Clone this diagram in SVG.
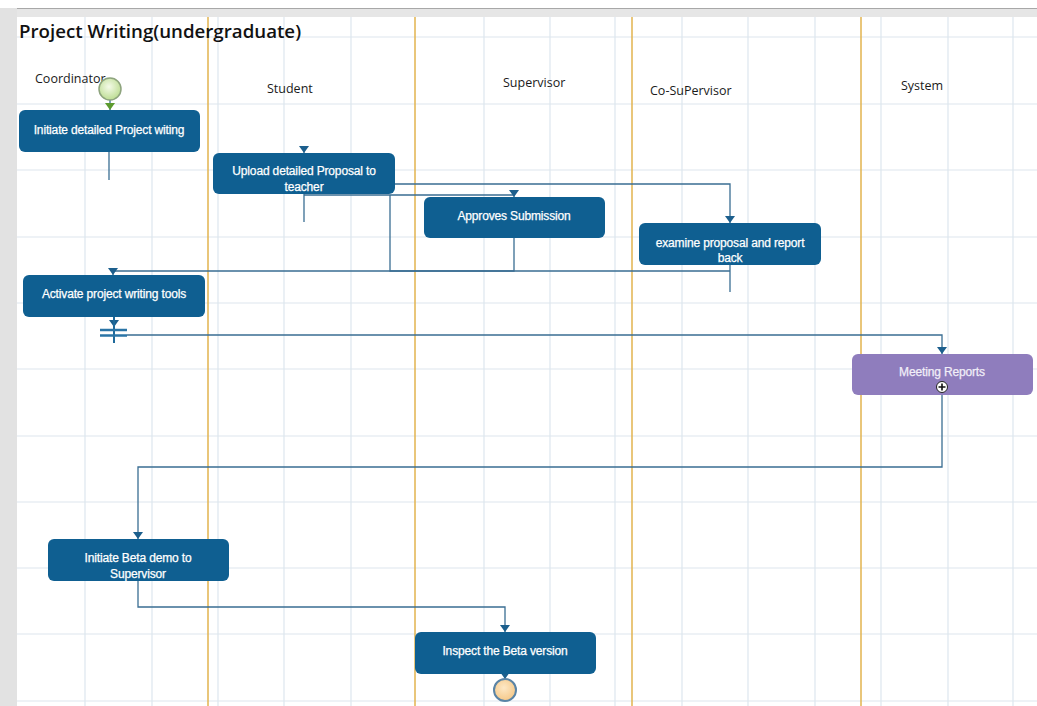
<svg xmlns="http://www.w3.org/2000/svg" width="1037" height="706" viewBox="0 0 1037 706">
  <defs>
    <style>
      .grid line { stroke: #dde6ee; stroke-width: 1.2; }
      .lane { stroke: #e2b34e; stroke-width: 1.5; }
      .act rect { fill: #0f5f91; }
      .act text { fill: #ffffff; stroke: #ffffff; stroke-width: 0.25; font-family: "Liberation Sans", Arial, sans-serif; font-size: 12px; text-anchor: middle; letter-spacing: -0.15px; }
      .lbl { font-family: "Open Sans", "DejaVu Sans", sans-serif; font-size: 12.5px; fill: #1a1a1a; }
      .conn path { fill: none; stroke: #3a6e93; stroke-width: 1.3; }
    </style>
    <marker id="arr" viewBox="0 0 7 10" refX="7" refY="5" markerWidth="7" markerHeight="10" markerUnits="userSpaceOnUse" orient="auto">
      <path d="M0,0 L7,5 L0,10 Z" fill="#1c5f8d"/>
    </marker>
    <marker id="arrG" viewBox="0 0 7 10" refX="7" refY="5" markerWidth="7" markerHeight="10" markerUnits="userSpaceOnUse" orient="auto">
      <path d="M0,0 L7,5 L0,10 Z" fill="#5c9a2e"/>
    </marker>
    <radialGradient id="gStart" cx="0.45" cy="0.4" r="0.6">
      <stop offset="0" stop-color="#f4fae8"/>
      <stop offset="1" stop-color="#bddd93"/>
    </radialGradient>
    <radialGradient id="gEnd" cx="0.45" cy="0.4" r="0.6">
      <stop offset="0" stop-color="#fde8c6"/>
      <stop offset="1" stop-color="#f5c888"/>
    </radialGradient>
  </defs>

  <!-- canvas and frame -->
  <rect x="0" y="0" width="1037" height="706" fill="#ffffff"/>
  <rect x="0" y="8" width="1037" height="9" fill="#e6e6e6"/>
  <line x1="0" y1="8.5" x2="1037" y2="8.5" stroke="#a8a8a8" stroke-width="1.2"/>
  <rect x="0" y="8" width="17" height="698" fill="#e2e2e2"/>

  <!-- background grid -->
  <g class="grid">
    <line x1="17" y1="37" x2="1037" y2="37"/>
    <line x1="17" y1="104" x2="1037" y2="104"/>
    <line x1="17" y1="170" x2="1037" y2="170"/>
    <line x1="17" y1="237" x2="1037" y2="237"/>
    <line x1="17" y1="303" x2="1037" y2="303"/>
    <line x1="17" y1="369" x2="1037" y2="369"/>
    <line x1="17" y1="436" x2="1037" y2="436"/>
    <line x1="17" y1="502" x2="1037" y2="502"/>
    <line x1="17" y1="568" x2="1037" y2="568"/>
    <line x1="17" y1="634" x2="1037" y2="634"/>
    <line x1="17" y1="701" x2="1037" y2="701"/>
    <line x1="85" y1="17" x2="85" y2="706"/>
    <line x1="152" y1="17" x2="152" y2="706"/>
    <line x1="218" y1="17" x2="218" y2="706"/>
    <line x1="284" y1="17" x2="284" y2="706"/>
    <line x1="351" y1="17" x2="351" y2="706"/>
    <line x1="484" y1="17" x2="484" y2="706"/>
    <line x1="550" y1="17" x2="550" y2="706"/>
    <line x1="615" y1="17" x2="615" y2="706"/>
    <line x1="682" y1="17" x2="682" y2="706"/>
    <line x1="748" y1="17" x2="748" y2="706"/>
    <line x1="815" y1="17" x2="815" y2="706"/>
    <line x1="881" y1="17" x2="881" y2="706"/>
    <line x1="948" y1="17" x2="948" y2="706"/>
    <line x1="1013" y1="17" x2="1013" y2="706"/>
  </g>

  <!-- swimlane separators -->
  <g id="lanes">
    <line class="lane" x1="208" y1="17" x2="208" y2="706"/>
    <line class="lane" x1="415" y1="17" x2="415" y2="706"/>
    <line class="lane" x1="632" y1="17" x2="632" y2="706"/>
    <line class="lane" x1="861" y1="17" x2="861" y2="706"/>
  </g>

  <!-- title and lane headers -->
  <text x="19" y="38" font-family="'Open Sans', 'DejaVu Sans', sans-serif" font-size="18.7" font-weight="600" fill="#111">Project Writing(undergraduate)</text>
  <text class="lbl" x="35" y="83">Coordinator</text>
  <text class="lbl" x="267" y="93">Student</text>
  <text class="lbl" x="503" y="87">Supervisor</text>
  <text class="lbl" x="650" y="95">Co-SuPervisor</text>
  <text class="lbl" x="901" y="90">System</text>

  <!-- connectors -->
  <g id="connectors" class="conn">
    <path d="M110,100 V110" stroke="#5c9a2e" marker-end="url(#arrG)"/>
    <path d="M109,152 V180"/>
    <path d="M304,146 V153" marker-end="url(#arr)"/>
    <path d="M304,194 V222"/>
    <path d="M395,184 H730 V223" marker-end="url(#arr)"/>
    <path d="M304,195 H514 V197" marker-end="url(#arr)"/>
    <path d="M514,238 V271 H390 V195"/>
    <path d="M730,265 V292"/>
    <path d="M730,271 H113 V275" marker-end="url(#arr)"/>
    <path d="M114,317 V327" marker-end="url(#arr)"/>
    <path d="M127,335 H942 V354" marker-end="url(#arr)"/>
    <path d="M942,392 V467 H138 V539" marker-end="url(#arr)"/>
    <path d="M138,581 V607 H505 V632" marker-end="url(#arr)"/>
    <path d="M505,674 V679" marker-end="url(#arr)"/>
  </g>

  <!-- start node -->
  <g id="start">
    <circle cx="110" cy="89" r="11" fill="url(#gStart)" stroke="#8ea47e" stroke-width="1.5"/>
  </g>

  <g id="n1" class="act">
    <rect x="19" y="110" width="181" height="42" rx="6"/>
    <text x="109" y="134">Initiate detailed Project witing</text>
  </g>

  <g id="n2" class="act">
    <rect x="213" y="153" width="182" height="41" rx="6"/>
    <text x="304" y="175">Upload detailed Proposal to</text>
    <text x="304" y="191">teacher</text>
  </g>

  <g id="n3" class="act">
    <rect x="424" y="197" width="181" height="41" rx="6"/>
    <text x="514" y="220">Approves Submission</text>
  </g>

  <g id="n4" class="act">
    <rect x="639" y="223" width="182" height="42" rx="6"/>
    <text x="730" y="247">examine proposal and report</text>
    <text x="730" y="262">back</text>
  </g>

  <g id="n5" class="act">
    <rect x="23" y="275" width="182" height="42" rx="6"/>
    <text x="114" y="298">Activate project writing tools</text>
  </g>

  <!-- fork bar -->
  <g id="fork">
    <line x1="114" y1="317" x2="114" y2="343" stroke="#1f6a9b" stroke-width="2"/>
    <line x1="100" y1="330" x2="127" y2="330" stroke="#2a74a6" stroke-width="2.5"/>
    <line x1="100" y1="335.5" x2="127" y2="335.5" stroke="#2a74a6" stroke-width="2.5"/>
  </g>

  <g id="n6" class="act">
    <rect x="852" y="354" width="181" height="41" rx="6" style="fill:#8f7dbd"/>
    <text x="942" y="376" style="fill:#f1eef8;stroke:#f1eef8">Meeting Reports</text>
    <circle cx="942" cy="387" r="5.5" fill="#ffffff" stroke="#222" stroke-width="1"/>
    <path d="M938.5,387 H945.5 M942,383.5 V390.5" stroke="#111" stroke-width="1.6"/>
  </g>

  <g id="n7" class="act">
    <rect x="48" y="539" width="181" height="42" rx="6"/>
    <text x="138" y="562">Initiate Beta demo to</text>
    <text x="138" y="578">Supervisor</text>
  </g>

  <g id="n8" class="act">
    <rect x="415" y="632" width="181" height="42" rx="6"/>
    <text x="505" y="655">Inspect the Beta version</text>
  </g>

  <!-- final node -->
  <g id="end">
    <circle cx="505" cy="690" r="11" fill="url(#gEnd)" stroke="#5a84a6" stroke-width="2"/>
  </g>
</svg>
